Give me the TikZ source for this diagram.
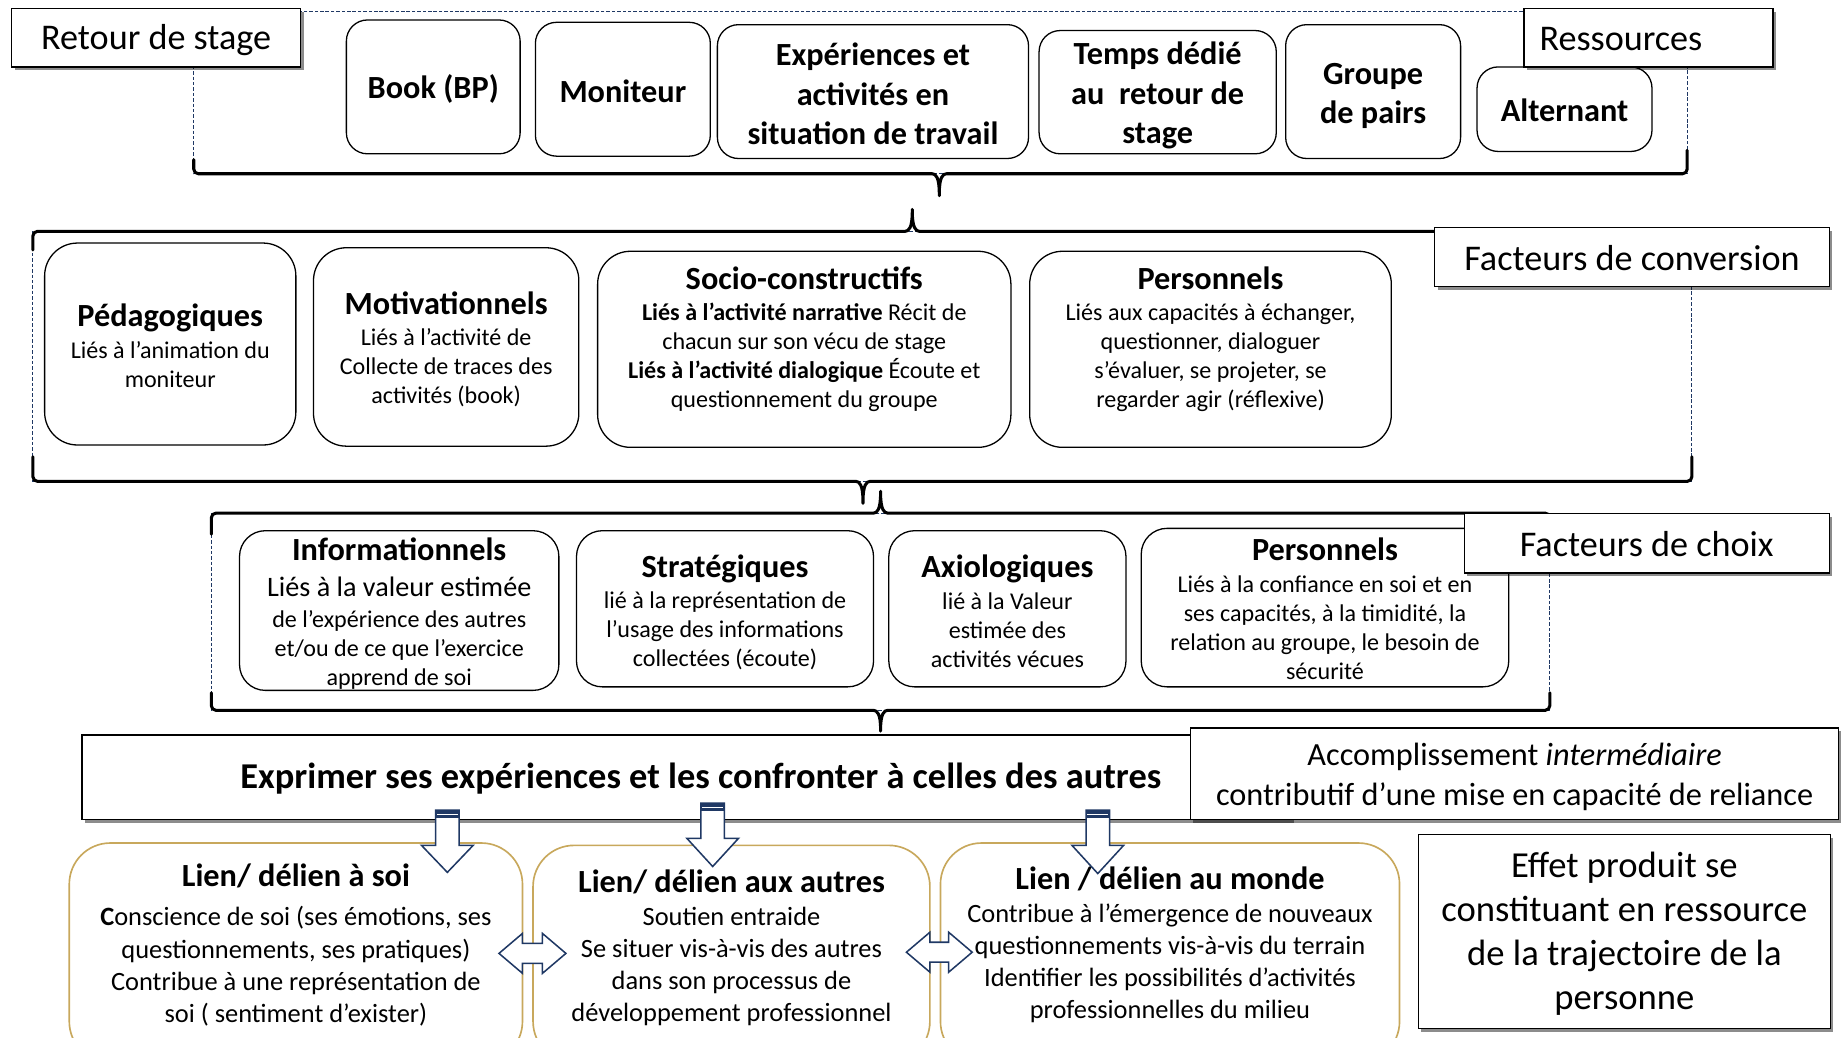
\documentclass[tikz,border=0pt]{standalone}
\usepackage{fontspec}
\setmainfont{Carlito}
\usetikzlibrary{shadows}
\definecolor{navy}{RGB}{31,56,100}
\definecolor{gold}{RGB}{200,168,92}
\newcommand{\fsz}[2]{\fontsize{#1}{#2}\selectfont}
\newcommand{\mytitle}[1]{{\bfseries\fsz{27.5}{30}#1}}
\newcommand{\mydarrow}[4]{%
  \draw[blockarrow] (#1-10,#2) -- (#1+10,#2) -- (#1+10,#3) -- (#1+22,#3) -- (#1,#4) -- (#1-22,#3) -- (#1-10,#3) -- cycle;
  \fill[navy] (#1-10,#2) rectangle (#1+10,#2+7);
  \draw[white, line width=0.8] (#1-9,#2+3.5) -- (#1+9,#2+3.5);}
\newcommand{\myharrow}[3]{%
  \draw[blockarrow] (#1,#3) -- (#1+20,#3-17) -- (#1+20,#3-8.5) -- (#2-20,#3-8.5) -- (#2-20,#3-17) -- (#2,#3) -- (#2-20,#3+17) -- (#2-20,#3+8.5) -- (#1+20,#3+8.5) -- (#1+20,#3+17) -- cycle;}
\begin{document}
\begin{tikzpicture}[x=1pt,y=-1pt,
 dashbox/.style={draw=navy,line width=0.8,dash pattern=on 3pt off 1.6pt},
 bracepath/.style={draw=black,line width=2.6,line join=round,line cap=round,rounded corners=4},
 shad/.style={drop shadow={shadow xshift=2.5pt,shadow yshift=-3pt,opacity=0.45,fill=black}},
 lbl/.style={shad,draw=black,fill=white,line width=1,inner sep=0,font=\fsz{30.8}{37}},
 resbox/.style={draw=black,fill=white,line width=1.1,rounded corners=18,inner sep=0},
 restxt/.style={inner sep=0,align=center,font=\bfseries\fsz{27.5}{33.5}},
 facbox/.style={draw=black,fill=white,line width=1.1,rounded corners=28,inner sep=0},
 chbox/.style={draw=black,fill=white,line width=1.1,rounded corners=22,inner sep=0},
 liebox/.style={draw=gold,fill=white,line width=1.4,rounded corners=35,inner sep=0},
 body/.style={align=center,inner sep=0,font=\fsz{20.5}{24.7}},
 liebody/.style={align=center,inner sep=0,font=\fsz{22.5}{27.3}},
 blockarrow/.style={draw=navy,fill=white,line width=1.3,line join=miter}
]
\useasboundingbox (0,0) rectangle (1568,884);
\clip (0,0) rectangle (1568,884);

% dashed frames
\draw[dashbox] (165,10) rectangle (1437,148);
\draw[dashbox] (28,197) rectangle (1441,410);
\draw[dashbox] (180,437) rectangle (1320,605);

% braces
\draw[bracepath] (165,136) -- (165,148) -- (790,148) .. controls (797,148) and (800,151) .. (800,169) .. controls (800,151) and (803,148) .. (810,148) -- (1437,148) -- (1437,128);
\draw[bracepath] (28,213) -- (28,197) -- (767,197) .. controls (774,197) and (777,194) .. (777,176) .. controls (777,194) and (780,197) .. (787,197) -- (1441,197) -- (1441,213);
\draw[bracepath] (28,389) -- (28,410) -- (725,410) .. controls (732,410) and (735,413) .. (735,431) .. controls (735,413) and (738,410) .. (745,410) -- (1441,410) -- (1441,389);
\draw[bracepath] (180,455) -- (180,437) -- (740,437) .. controls (747,437) and (750,434) .. (750,416) .. controls (750,434) and (753,437) .. (760,437) -- (1320,437) -- (1320,455);
\draw[bracepath] (180,590) -- (180,605) -- (740,605) .. controls (747,605) and (750,608) .. (750,625) .. controls (750,608) and (753,605) .. (760,605) -- (1320,605) -- (1320,590);

% resources
\node[resbox, minimum width=148, minimum height=114] (book) at (369,74) {};
\node[resbox, minimum width=149, minimum height=114] (monit) at (530.5,76) {};
\node[resbox, minimum width=265, minimum height=114] (exper) at (743.5,78) {};
\node[resbox, minimum width=202, minimum height=105] (temps) at (986,78.5) {};
\node[resbox, minimum width=149, minimum height=114] (groupe) at (1169.5,78) {};
\node[resbox, minimum width=149, minimum height=72] (altern) at (1332.5,93) {};
\node[restxt] (bookt) at (369,76) {Book (BP)};
\node[restxt] (monitt) at (530.5,77.5) {Moniteur};
\node[restxt] (expert) at (743.5,80) {Expériences et\\ activités en\\ situation de travail};
\node[restxt] (tempst) at (986,81.5) {Temps dédié\\ au\ \ retour de\\ stage};
\node[restxt] (groupet) at (1169.5,82) {Groupe\\ de pairs};
\node[restxt] (alternt) at (1332.5,94) {Alternant};

% conversion factors
\node[facbox, minimum width=214, minimum height=172] (ped) at (145,293) {};
\node[facbox, minimum width=226, minimum height=169] (motiv) at (380,295.5) {};
\node[facbox, minimum width=352, minimum height=167] (socio) at (685,297.5) {};
\node[facbox, minimum width=308, minimum height=167] (perso1) at (1031,297.5) {};
\node[body] (pedt) at (145,294.5) {\mytitle{Pédagogiques}\\[2.3pt] Liés à l’animation du\\ moniteur};
\node[body] (motivt) at (380,297.5) {\mytitle{Motivationnels}\\[2.3pt] Liés à l’activité de\\ Collecte de traces des\\ activités (book)};
\node[body] (sociot) at (685,289) {\mytitle{Socio-constructifs}\\[1.3pt] \textbf{Liés à l’activité narrative} Récit de\\ chacun sur son vécu de stage\\ \textbf{Liés à l’activité dialogique} Écoute et\\ questionnement du groupe};
\node[body] (perso1t) at (1031,289) {\mytitle{Personnels}\\[1.3pt] Liés aux capacités à échanger,\\ questionner, dialoguer\\ s’évaluer, se projeter, se\\ regarder agir (réflexive)};

% choice factors
\node[chbox, minimum width=272, minimum height=136] (info) at (340,520) {};
\node[chbox, minimum width=253, minimum height=133] (strat) at (617.5,518.5) {};
\node[chbox, minimum width=202, minimum height=133] (axio) at (858,518.5) {};
\node[chbox, minimum width=313, minimum height=135] (perso2) at (1128.5,517.5) {};
\node[body] (infot) at (340,522.5) {\mytitle{Informationnels}\\[6.3pt] {\fsz{24}{25}Liés à la valeur estimée}\\[1.3pt] de l’expérience des autres\\ et/ou de ce que l’exercice\\ apprend de soi};
\node[body] (stratt) at (617.5,521.5) {\mytitle{Stratégiques}\\[2.3pt] lié à la représentation de\\ l’usage des informations\\ collectées (écoute)};
\node[body] (axiot) at (858,520.4) {\mytitle{Axiologiques}\\[2.3pt] lié à la Valeur\\ estimée des\\ activités vécues};
\node[body] (perso2t) at (1128.5,518.5) {\mytitle{Personnels}\\[3.3pt] Liés à la confiance en soi et en\\ ses capacités, à la timidité, la\\ relation au groupe, le besoin de\\ sécurité};

% labels
\node[lbl, minimum width=246, minimum height=50] (retour) at (133,32) {};
\node[lbl, minimum width=212, minimum height=50] (ress) at (1404,32) {};
\node[lbl, minimum width=336, minimum height=50] (fconv) at (1390,219) {};
\node[lbl, minimum width=311, minimum height=51] (fchoix) at (1402.5,462.5) {};
\node[inner sep=0, font=\fsz{30.8}{37}] (retourt) at (133,34) {Retour de stage};
\node[inner sep=0, font=\fsz{30.8}{37}, anchor=west] (resst) at (1311,33) {Ressources};
\node[inner sep=0, font=\fsz{30.8}{37}] (fconvt) at (1390,220) {Facteurs de conversion};
\node[inner sep=0, font=\fsz{30.8}{37}] (fchoixt) at (1402.5,463) {Facteurs de choix};

% expression
\node[shad, draw=black, fill=white, line width=1.2, minimum width=1030, minimum height=72, inner sep=0] (exprimer) at (585,662) {};
\node[font=\bfseries\fsz{31}{36}, inner sep=0] (exprimert) at (597,663) {Exprimer ses expériences et les confronter à celles des autres};
\node[lbl, minimum width=552, minimum height=78] (accomp) at (1290,659) {};
\node[inner sep=0, align=center, font=\fsz{27.5}{34}] (accompt) at (1290,662) {Accomplissement \textit{intermédiaire}\\ contributif d’une mise en capacité de reliance};

% links
\node[liebox, minimum width=386, minimum height=187] (soi) at (252,811.5) {};
\node[liebox, minimum width=338, minimum height=185] (autres) at (623,812.5) {};
\node[liebox, minimum width=391, minimum height=187] (monde) at (996.5,811.5) {};
\node[liebody] (soit) at (252,804.5) {\mytitle{Lien/ délien à soi}\\[6.7pt] \textbf{C}onscience de soi (ses émotions, ses\\ questionnements, ses pratiques)\\ Contribue à une représentation de\\ soi ( sentiment d’exister)};
\node[liebody] (autrest) at (623,807.4) {\mytitle{Lien/ délien aux autres}\\[0.7pt] Soutien entraide\\ Se situer vis-à-vis des autres\\ dans son processus de\\ développement professionnel};
\node[liebody] (mondet) at (996.5,805) {\mytitle{Lien / délien au monde}\\[0.7pt] Contribue à l’émergence de nouveaux\\ questionnements vis-à-vis du terrain\\ Identifier les possibilités d’activités\\ professionnelles du milieu};

\node[lbl, minimum width=351, minimum height=165] (effet) at (1383.5,793.5) {};
\node[inner sep=0, align=center, font=\fsz{31.2}{37.5}] (effett) at (1383.5,795) {Effet produit se\\ constituant en ressource\\ de la trajectoire de la\\ personne};

% block arrows
\mydarrow{381}{690}{720}{743}
\mydarrow{607}{684}{714}{738}
\mydarrow{935}{690}{720}{744}
\myharrow{425}{482}{812}
\myharrow{772}{828}{811}
\end{tikzpicture}
\end{document}
